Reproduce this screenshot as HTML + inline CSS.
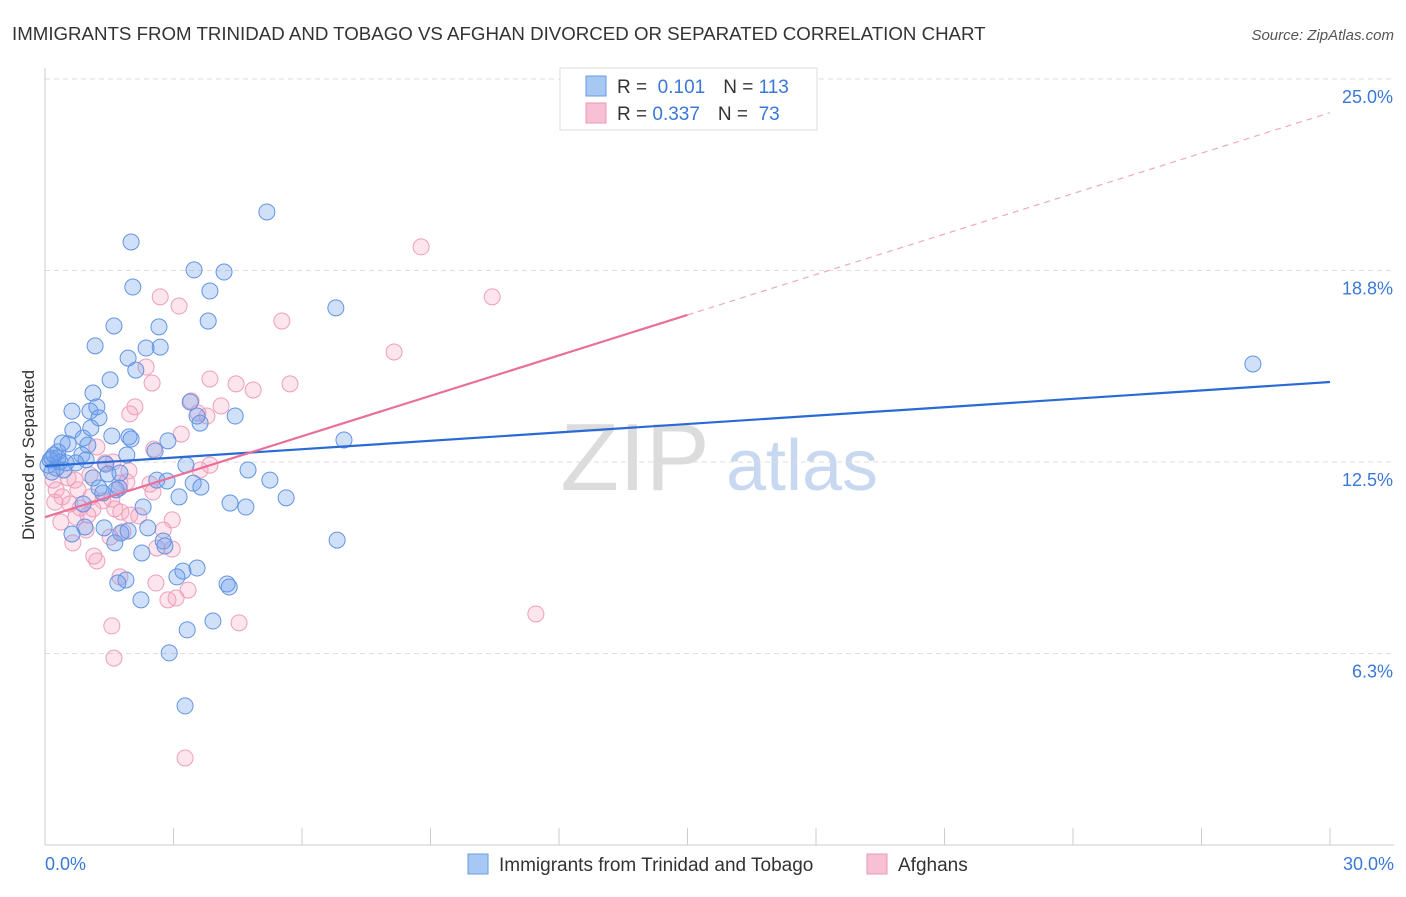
<!DOCTYPE html>
<html><head><meta charset="utf-8"><style>
body{margin:0;background:#fff;font-family:"Liberation Sans",sans-serif;}
svg text{font-family:"Liberation Sans",sans-serif;}
</style></head><body>
<svg id="chart" width="1406" height="892" viewBox="0 0 1406 892" xmlns="http://www.w3.org/2000/svg">
<text x="12" y="40" font-size="18.7" fill="#333">IMMIGRANTS FROM TRINIDAD AND TOBAGO VS AFGHAN DIVORCED OR SEPARATED CORRELATION CHART</text>
<text x="1394" y="40" font-size="15" fill="#555" font-style="italic" text-anchor="end">Source: ZipAtlas.com</text>
<g>
<text x="635" y="490" font-size="96" fill="#dcdcdc" font-family="Liberation Serif,serif" text-anchor="middle">ZIP</text>
<text x="802" y="490" font-size="72" fill="#c8d8f0" text-anchor="middle">atlas</text>
</g>
<g id="grid"></g>
<g id="axes"></g>
<g id="pts"></g>
<g id="lines"></g>
<text x="34" y="455" font-size="17" fill="#333" text-anchor="middle" transform="rotate(-90 34 455)">Divorced or Separated</text>
<g>
<rect x="560" y="68" width="257" height="62" fill="#fff" stroke="#ddd"/>
<rect x="586" y="76" width="20" height="20" fill="#a8c8f4" stroke="#6a9ae0"/>
<rect x="586" y="103" width="20" height="20" fill="#f8c0d4" stroke="#e898b4"/>
<text x="617" y="93" font-size="19" fill="#333">R = <tspan fill="#3a78d8">&#160;0.101</tspan><tspan dx="18">N = </tspan><tspan fill="#3a78d8">113</tspan></text>
<text x="617" y="120" font-size="19" fill="#333">R = <tspan fill="#3a78d8">0.337</tspan><tspan dx="18">N = </tspan><tspan fill="#3a78d8">&#160;73</tspan></text>
</g>
<g>
<rect x="468" y="854" width="20" height="20" fill="#a8c8f4" stroke="#6a9ae0"/>
<text x="499" y="871" font-size="19" fill="#333">Immigrants from Trinidad and Tobago</text>
<rect x="867" y="854" width="20" height="20" fill="#f8c0d4" stroke="#e898b4"/>
<text x="898" y="871" font-size="19" fill="#333">Afghans</text>
</g>
</svg>
<script>
const yTicks=[25.0,18.75,12.5,6.25];
const yTickLabels=["25.0%","18.8%","12.5%","6.3%"];
const xTickLabels=["0.0%","30.0%"];
const blueX=[5.18,2.01,3.48,4.18,2.05,3.85,6.79,1.61,2.66,3.81,1.17,2.36,2.69,1.94,2.12,1.52,1.12,0.63,1.05,1.21,1.26,4.44,3.62,0.65,1.07,1.56,1.96,0.89,2.01,6.98,3.55,3.39,2.57,2.87,0.40,0.54,1.00,0.30,0.86,0.96,1.91,0.16,0.35,0.72,0.07,0.26,0.49,1.42,3.29,4.74,1.75,1.47,1.12,5.25,2.61,2.85,3.46,3.64,1.73,1.26,1.35,1.66,3.13,5.63,4.32,4.69,0.89,2.29,1.38,0.93,2.40,1.77,1.94,0.63,1.63,2.76,2.80,6.82,2.26,3.55,3.22,3.08,1.89,1.70,4.25,4.30,2.24,3.92,3.32,2.90,3.27,28.20,0.16,0.30,0.44,0.12,0.21];
const blueY=[20.66,19.68,18.77,18.70,18.21,18.08,17.53,16.94,16.91,17.10,16.29,16.22,16.25,15.89,15.50,15.18,14.75,14.16,14.16,14.30,13.94,14.00,13.77,13.54,13.61,13.35,13.32,13.28,13.25,13.22,14.00,14.46,12.86,13.19,13.12,13.09,13.05,12.83,12.73,12.57,12.73,12.63,12.50,12.47,12.40,12.30,12.47,12.43,12.40,12.24,12.14,12.11,11.98,11.91,11.91,11.88,11.81,11.68,11.65,11.65,11.49,11.59,11.36,11.33,11.16,11.03,11.13,11.03,10.35,10.38,10.35,10.18,10.25,10.15,9.86,9.92,9.76,9.95,9.53,9.04,8.94,8.75,8.65,8.55,8.52,8.42,8.00,7.31,7.02,6.27,4.54,15.70,12.17,12.63,12.24,12.57,12.73];
const pinkX=[8.78,10.44,2.69,3.13,5.53,8.15,2.36,2.50,3.85,4.46,5.72,4.86,3.41,4.11,2.10,1.98,3.78,3.57,3.18,2.54,1.21,3.85,3.62,1.40,1.59,1.96,1.05,0.54,0.19,0.26,0.70,0.77,1.75,1.91,2.45,2.52,1.07,1.56,0.40,0.23,0.58,1.35,0.82,1.12,1.63,1.77,1.98,2.19,2.97,2.76,1.00,0.72,0.37,0.96,1.82,1.52,2.61,2.97,0.65,1.14,1.21,1.75,2.59,3.34,2.87,3.06,11.46,1.56,4.53,1.61,3.27];
const pinkY=[19.52,17.89,17.89,17.59,17.10,16.09,15.60,15.08,15.21,15.05,15.05,14.85,14.49,14.33,14.30,14.07,14.00,14.10,13.41,12.92,12.99,12.40,12.24,12.47,12.50,12.21,12.08,11.98,11.91,11.59,11.91,11.59,11.81,11.85,11.78,11.52,11.36,11.29,11.36,11.19,11.13,11.23,11.00,10.97,10.97,10.87,10.77,10.74,10.61,10.28,10.77,10.70,10.54,10.28,10.22,10.05,9.69,9.66,9.86,9.43,9.27,8.75,8.55,8.32,8.00,8.06,7.54,7.15,7.25,6.10,2.84];
const blueLine=[12.37,15.11];
const pinkLine=[10.7,23.9];
const pinkSolidEnd=15;

const NS="http://www.w3.org/2000/svg";
const X0=45,X1=1330,Y0=845,PXPER=30.64;
function sx(v){return X0+v/30*(X1-X0);}
function sy(v){return Y0-v*PXPER;}
function mk(tag,attrs,parent){const e=document.createElementNS(NS,tag);for(const k in attrs)e.setAttribute(k,attrs[k]);parent.appendChild(e);return e;}
const grid=document.getElementById('grid'),axes=document.getElementById('axes'),pts=document.getElementById('pts'),lines=document.getElementById('lines');
yTicks.forEach((t,i)=>{
  const l=mk('line',{x1:X0,x2:1394,y1:sy(t),y2:sy(t),stroke:'#ddd','stroke-dasharray':'5,4'},grid);
  
  
  const tx=mk('text',{x:1393,y:sy(t)+24,'font-size':18,fill:'#3a78d8','text-anchor':'end'},axes);
  tx.textContent=yTickLabels[i];
  
  
});
let al=mk('line',{x1:X0,x2:X0,y1:68,y2:Y0,stroke:'#ccc'},axes);


let bl=mk('line',{x1:X0,x2:1394,y1:Y0,y2:Y0,stroke:'#ccc'},axes);


for(let i=0;i<=10;i++){
  const x=sx(i*3);
  const tk=mk('line',{x1:x,x2:x,y1:828,y2:Y0,stroke:'#ccc'},axes);
  
  
}
[[0,'start',X0],[30,'end',1394]].forEach((a,i)=>{
  const t=mk('text',{x:a[2],y:870,'font-size':18,fill:'#3a78d8','text-anchor':a[1]},axes);
  t.textContent=xTickLabels[i];
  
  
});
function drawPts(xs,ys,fill,stroke,name){
  xs.forEach((x,i)=>{
    const c=mk('circle',{cx:sx(x),cy:sy(ys[i]),r:8,fill:fill,stroke:stroke,'stroke-width':1},pts);
    
    
  });
}
drawPts(pinkX,pinkY,'rgba(244,160,190,0.28)','#ee9ebb','afghan-point');
drawPts(blueX,blueY,'rgba(110,160,235,0.32)','#6294e2','trinidad-point');
const b=mk('line',{x1:sx(0),y1:sy(blueLine[0]),x2:sx(30),y2:sy(blueLine[1]),stroke:'#2a6ad4','stroke-width':2.2},lines);


const pAt=x=>pinkLine[0]+(pinkLine[1]-pinkLine[0])*x/30;
const p1=mk('line',{x1:sx(0),y1:sy(pinkLine[0]),x2:sx(pinkSolidEnd),y2:sy(pAt(pinkSolidEnd)),stroke:'#e8709a','stroke-width':2.2},lines);


const p2=mk('line',{x1:sx(pinkSolidEnd),y1:sy(pAt(pinkSolidEnd)),x2:sx(30),y2:sy(pinkLine[1]),stroke:'#f0a8c0','stroke-width':1.2,'stroke-dasharray':'6,5'},lines);


</script>
</body></html>
